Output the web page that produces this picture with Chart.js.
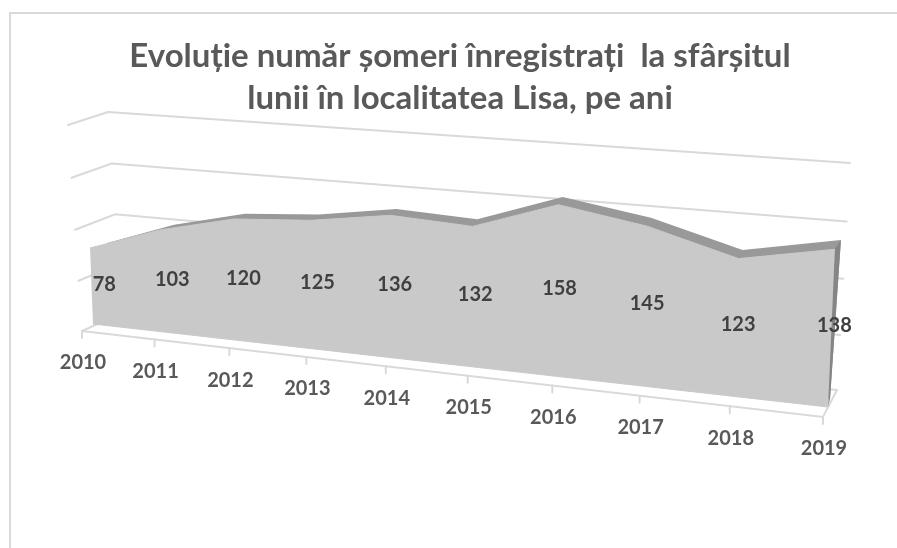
<!DOCTYPE html>
<html lang="ro">
<head>
<meta charset="utf-8">
<title>Evoluție număr șomeri</title>
<script src="https://cdn.jsdelivr.net/npm/chart.js@4"></script>
<style>
html,body{margin:0;padding:0;background:#fff;overflow:hidden}
canvas{display:block;filter:blur(0.4px)}
</style>
</head>
<body>
<canvas id="c" width="897" height="548"></canvas>
<script>
const years = ['2010','2011','2012','2013','2014','2015','2016','2017','2018','2019'];
const someri = [78,103,120,125,136,132,158,145,123,138];
const floorLevel = [0,0,0,0,0,0,0,0,0,0];
const titleLines = ['Evoluție număr șomeri înregistrați  la sfârșitul','lunii în localitatea Lisa, pe ani'];
const valueMax = 200;
const valueStep = 50;

// Perspective planes of the 3-D scene: corners for (first category, 0), (last, 0), (last, max), (first, max)
function plane(q){
  const [p0,p1,p2,p3]=q;
  const dx1=p1[0]-p2[0],dx2=p3[0]-p2[0],sx=p0[0]-p1[0]+p2[0]-p3[0];
  const dy1=p1[1]-p2[1],dy2=p3[1]-p2[1],sy=p0[1]-p1[1]+p2[1]-p3[1];
  const den=dx1*dy2-dx2*dy1;
  const g=(sx*dy2-dx2*sy)/den,h=(dx1*sy-sx*dy1)/den;
  const a=p1[0]-p0[0]+g*p1[0],b=p3[0]-p0[0]+h*p3[0],c=p0[0];
  const d=p1[1]-p0[1]+g*p1[1],e=p3[1]-p0[1]+h*p3[1],f=p0[1];
  return (u,v)=>{const w=g*u+h*v+1;return {x:(a*u+b*v+c)/w,y:(d*u+e*v+f)/w};};
}
const frontEdge = plane([[82,331],[823,417],[836,182],[68,125]]);
const backWall  = plane([[122,313],[837,390],[850,163],[108,112]]);
const areaFront = plane([[93,324],[828,407],[838,176.6],[85.3,126.5]]);
const areaBack  = plane([[110,317],[830,399],[846,166],[102.3,124]]);
const planes = [areaFront, areaFront, areaBack, areaBack];

const GRID='#D9D9D9', FRONT='#C9C9C9', BAND='#999999', SIDE='#858585';
const FONT='bold 20px Lato';

const scene = {
  id:'scene',
  afterDatasetsUpdate(chart){
    const xs=chart.scales.x, ys=chart.scales.y;
    chart.data.datasets.forEach((ds,i)=>{
      const map=planes[i];
      chart.getDatasetMeta(i).data.forEach(el=>{
        const u=(el.x-xs.left)/xs.width;
        const v=ys.getValueForPixel(el.y)/valueMax;
        const p=map(u,v);
        el.x=p.x; el.y=p.y;
      });
    });
  },
  beforeDatasetsDraw(chart){
    const ctx=chart.ctx, xs=chart.scales.x, ys=chart.scales.y;
    ctx.save();
    // outer chart frame
    ctx.strokeStyle=GRID; ctx.lineWidth=2;
    ctx.strokeRect(10,13,1000,1000);
    // walls and floor
    ctx.lineCap='round';
    ys.ticks.forEach(t=>{
      const v=t.value/valueMax;
      const a=frontEdge(0,v), b=backWall(0,v), c=backWall(1,v);
      ctx.beginPath(); ctx.moveTo(a.x,a.y); ctx.lineTo(b.x,b.y); ctx.lineTo(c.x,c.y); ctx.stroke();
    });
    const l=frontEdge(0,0), r=frontEdge(1,0), rb=backWall(1,0);
    ctx.beginPath(); ctx.moveTo(l.x,l.y); ctx.lineTo(r.x,r.y); ctx.lineTo(rb.x,rb.y); ctx.stroke();
    // category ticks
    xs.ticks.forEach((t,i)=>{
      const p=frontEdge(i/(xs.ticks.length-1),0);
      ctx.beginPath(); ctx.moveTo(p.x,p.y); ctx.lineTo(p.x,p.y+7); ctx.stroke();
    });
    // extruded area faces, from the library's point elements
    const poly=(top,base,fill)=>{
      ctx.beginPath();
      top.forEach((p,i)=>i?ctx.lineTo(p.x,p.y):ctx.moveTo(p.x,p.y));
      base.slice().reverse().forEach(p=>ctx.lineTo(p.x,p.y));
      ctx.closePath(); ctx.fillStyle=fill; ctx.fill();
    };
    const m=i=>chart.getDatasetMeta(i).data;
    poly(m(2),m(3),BAND);
    const n=years.length-1;
    poly([m(0)[n],m(2)[n]],[m(1)[n],m(3)[n]],SIDE);
    poly(m(0),m(1),FRONT);
    ctx.restore();
  },
  afterDatasetsDraw(chart){
    const ctx=chart.ctx, xs=chart.scales.x;
    ctx.save();
    ctx.font=FONT; ctx.textAlign='center'; ctx.textBaseline='middle';
    // value labels at half height, towards the back of the area
    ctx.fillStyle='#404040';
    someri.forEach((val,i)=>{
      const u=i/(someri.length-1), v=val/2/valueMax;
      const a=areaFront(u,v), b=areaBack(u,v);
      ctx.fillText(String(val),a.x*0.25+b.x*0.75,a.y*0.25+b.y*0.75+3);
    });
    // category labels
    ctx.fillStyle='#595959';
    xs.ticks.forEach((t,i)=>{
      const p=frontEdge(i/(xs.ticks.length-1),0);
      ctx.fillText(xs.getLabelForValue(t.value),p.x+1,p.y+32);
    });
    ctx.restore();
  }
};

const lineSet=(data,color,width)=>({data,borderColor:color,borderWidth:width,pointRadius:0,pointHoverRadius:0,tension:0,fill:false,clip:false});

new Chart(document.getElementById('c'),{
  type:'line',
  data:{labels:years,datasets:[
    lineSet(someri,FRONT,1),
    lineSet(floorLevel,FRONT,1),
    lineSet(someri,BAND,0),
    lineSet(floorLevel,BAND,0)
  ]},
  plugins:[scene],
  options:{
    responsive:false,animation:false,events:[],
    layout:{padding:{left:23,top:36,right:0,bottom:10}},
    plugins:{
      legend:{display:false},tooltip:{enabled:false},
      title:{display:true,text:titleLines,color:'#595959',
        font:{family:'Lato',size:33,weight:'bold',lineHeight:1.26},padding:{top:0,bottom:0}}
    },
    scales:{
      x:{display:false,offset:false},
      y:{display:false,min:0,max:valueMax,ticks:{stepSize:valueStep}}
    }
  }
});
</script>
</body>
</html>
